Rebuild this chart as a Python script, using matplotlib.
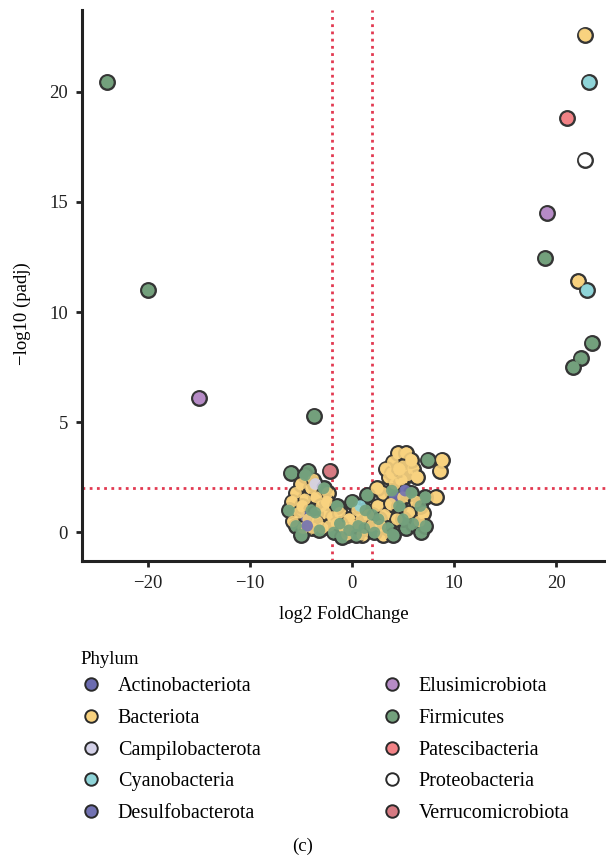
import matplotlib.pyplot as plt
from matplotlib.lines import Line2D

plt.rcParams['font.family'] = ['Liberation Serif', 'DejaVu Serif']

# phylum names and colours (legend order)
phyla = ['Actinobacteriota', 'Bacteriota', 'Campilobacterota', 'Cyanobacteria',
         'Desulfobacterota', 'Elusimicrobiota', 'Firmicutes', 'Patescibacteria',
         'Proteobacteria', 'Verrucomicrobiota']
colors = ['#6b6bb0', '#f8d27f', '#d3d1e8', '#8fd4d8', '#7272b2',
          '#b68bc6', '#73a07c', '#f28286', '#ffffff', '#d67a82']

# log2 fold change / -log10(padj)
actino_x = [-4.5, 4.2]
actino_y = [0.7, 1.6]
bact_x = [22.8, 22.2,
          -5.5, -5.0, -4.6, -4.0, -3.5, -3.0, -5.2, -4.3, -3.4, -2.6, -5.8, -4.8, -2.4, -3.8, -2.2,
          -5.9, -4.9, -3.9, -2.9, -2.5, -1.9,
          -1.5, -0.8, 0.2, 0.9, 1.6, -1.2, 0.5, -0.3, -0.5, 1.0, 1.9,
          2.5, 3.0, 3.6, 4.0, 4.5, 5.0, 5.5, 6.0, 6.4, 4.2, 5.0, 3.2, 4.4, 5.6, 6.3, 2.8, 4.8, 5.3, 3.8, 6.6,
          2.4, 3.3, 3.9, 4.6, 5.8, 7.0, 3.0,
          8.6, 8.8, 8.2]
bact_y = [22.6, 11.4,
          1.8, 2.2, 1.5, 2.0, 1.6, 1.2, 0.9, 0.6, 0.5, 0.9, 0.5, 0.2, 1.8, 2.4, 0.3,
          1.4, 1.2, 0.2, 0.2, 1.4, 0.7,
          0.4, 0.2, 0.3, 0.6, 0.8, 0.9, 1.0, 0.6, -0.1, -0.1, 0.3,
          1.2, 1.8, 2.5, 3.2, 3.6, 3.0, 2.6, 2.9, 2.5, 2.2, 1.6, 0.8, 0.6, 0.9, 1.4, 0.3, 2.4, 3.6, 1.3, 0.5,
          2.0, 2.9, 2.7, 2.9, 3.3, 0.9, -0.1,
          2.8, 3.3, 1.6]
campi_x = [-3.6]
campi_y = [2.2]
cyano_x = [23.2, 23.0, 0.8]
cyano_y = [20.45, 11.0, 1.2]
desulfo_x = [-4.4, 5.2]
desulfo_y = [0.3, 1.9]
elusi_x = [19.1, -15.0]
elusi_y = [14.5, 6.1]
firm_x = [-24.0, -20.0, -3.7, 18.9, 23.5, 22.4, 21.7,
          -6.0, -4.3, -6.2, -5.5, -4.0, -2.8, -3.2, -1.8, -1.0, -0.3, 0.4, 1.2, 0.0, 1.5,
          -1.5, 2.2, 2.0, 3.5, 3.9, 4.6, 5.3, 6.0, 6.8, 5.8, 6.7, 7.4, 7.2,
          -5.0, -3.6, -1.2, 0.6, 1.3, 2.6, 4.0, 5.0, 7.2, -4.6]
firm_y = [20.45, 11.0, 5.3, 12.45, 8.6, 7.9, 7.5,
          2.7, 2.8, 1.0, 0.3, 1.0, 2.0, 0.1, 0.0, -0.2, 0.1, -0.1, 0.2, 1.4, 1.7,
          1.2, 0.0, 0.8, 0.2, 1.9, 1.2, 0.2, 0.4, 0.0, 1.8, 1.2, 3.3, 1.6,
          -0.1, 0.9, 0.4, 0.3, 1.0, 0.6, -0.1, 0.6, 0.3, 2.6]
pates_x = [21.1]
pates_y = [18.8]
proteo_x = [22.8]
proteo_y = [16.9]
verru_x = [-2.2]
verru_y = [2.8]

xs = [actino_x, bact_x, campi_x, cyano_x, desulfo_x, elusi_x, firm_x, pates_x, proteo_x, verru_x]
ys = [actino_y, bact_y, campi_y, cyano_y, desulfo_y, elusi_y, firm_y, pates_y, proteo_y, verru_y]

fig = plt.figure(figsize=(6.06, 8.58), dpi=100)
ax = fig.add_axes([0.135, 0.346, 0.865, 0.642])

# thresholds
ax.axvline(-2, color='#e23a52', lw=2, ls=(0, (1, 1.6)), zorder=1)
ax.axvline(2, color='#e23a52', lw=2, ls=(0, (1, 1.6)), zorder=1)
ax.axhline(2, color='#e23a52', lw=2, ls=(0, (1, 1.6)), zorder=1)

# first pass: dark rims, second pass: faces on top (hides inner rims of the blob)
for x, y, c in zip(xs, ys, colors):
    ax.scatter(x, y, s=110, color=c, edgecolors='#353535', linewidths=1.7, zorder=2)
for x, y, c in zip(xs, ys, colors):
    ax.scatter(x, y, s=70, color=c, edgecolors='none', alpha=0.9, zorder=3)

ax.set_xlim(-26.5, 24.9)
ax.set_ylim(-1.3, 23.7)
ax.set_xticks([-20, -10, 0, 10, 20])
ax.set_yticks([0, 5, 10, 15, 20])
ax.set_xticklabels(['\u221220', '\u221210', '0', '10', '20'])
for s in ['top', 'right']:
    ax.spines[s].set_visible(False)
for s in ['left', 'bottom']:
    ax.spines[s].set_linewidth(2.2)
    ax.spines[s].set_color('#222222')
ax.tick_params(direction='out', length=4, width=2, labelsize=13.5, colors='#222222', pad=6)
ax.set_xlabel('log2 FoldChange', fontsize=13.5, labelpad=10)
ax.set_ylabel('\u2212log10 (padj)', fontsize=13.5)
ax.yaxis.set_label_coords(-0.097, 0.45)

handles = [Line2D([], [], ls='none', marker='o', markersize=9, markerfacecolor=c,
                  markeredgecolor='#2a2a2a', markeredgewidth=1.4) for c in colors]
fig.text(80 / 606, 1 - 660 / 858, 'Phylum', ha='left', va='center', fontsize=13.5)
leg = fig.legend(handles, phyla, ncol=2, loc='upper left',
                 bbox_to_anchor=(0.133, 1 - 677 / 858), frameon=False,
                 fontsize=14.5, handlelength=1.0, handletextpad=0.85, labelspacing=0.63,
                 columnspacing=6.0, borderaxespad=0, borderpad=0)

fig.text(0.5, 0.004, '(c)', ha='center', va='bottom', fontsize=13.5)

fig.savefig('out.png', dpi=100)
